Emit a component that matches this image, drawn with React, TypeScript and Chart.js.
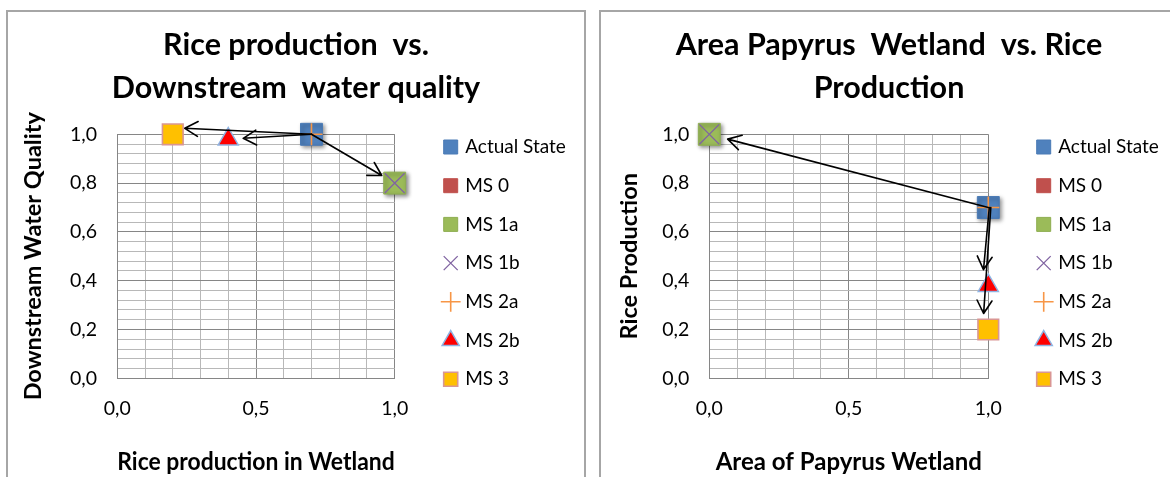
import React, { useEffect, useRef } from 'react';
import { Chart, registerables } from 'chart.js';

Chart.register(...registerables);

// ---------- data ----------
const SERIES_LABELS = ['Actual State', 'MS 0', 'MS 1a', 'MS 1b', 'MS 2a', 'MS 2b', 'MS 3'];

// Chart 1: x = rice production in wetland, y = downstream water quality
const RICE_IN_WETLAND = [0.7, null, 1.0, 1.0, 0.7, 0.4, 0.2];
const WATER_QUALITY = [1.0, null, 0.8, 0.8, 1.0, 0.98, 1.0];

// Chart 2: x = area of papyrus wetland, y = rice production
const PAPYRUS_AREA = [1.0, null, 0.0, 0.0, 1.0, 1.0, 1.0];
const RICE_PRODUCTION = [0.7, null, 1.0, 1.0, 0.7, 0.38, 0.2];

const X_TICK_VALUES = [0, 0.5, 1];
const X_TICK_LABELS = ['0,0', '0,5', '1,0'];
const Y_TICK_VALUES = [0, 0.2, 0.4, 0.6, 0.8, 1];
const Y_TICK_LABELS = ['0,0', '0,2', '0,4', '0,6', '0,8', '1,0'];

const ARROWS_1 = [
  ['Actual State', 'MS 3'],
  ['Actual State', 'MS 2b'],
  ['Actual State', 'MS 1a'],
];
const ARROWS_2 = [
  ['Actual State', 'MS 1a'],
  ['Actual State', 'MS 2b'],
  ['Actual State', 'MS 3'],
];

// ---------- styles ----------
const SERIES_STYLES = [
  { pointStyle: 'rect', fill: '#4f81bd', stroke: '#4a7ab5', width: 1, radius: 15.5, shadow: true },
  { pointStyle: 'rect', fill: '#c0504d', stroke: '#c0504d', width: 1, radius: 15, shadow: true },
  { pointStyle: 'rect', fill: '#9bbb59', stroke: '#8fae52', width: 1, radius: 15.5, shadow: true },
  { pointStyle: 'crossRot', fill: '#8064a2', stroke: '#8064a2', width: 1.3, radius: 14, shadow: false },
  { pointStyle: 'cross', fill: '#f79646', stroke: '#f79646', width: 1.6, radius: 11, shadow: false },
  { pointStyle: 'triangle', fill: '#ff0000', stroke: '#8eb4e3', width: 1.5, radius: 11.6, shadow: false },
  { pointStyle: 'rect', fill: '#ffc000', stroke: '#d99694', width: 1.6, radius: 14.6, shadow: false },
];

const FONT = 'Lato';
const MAJOR_GRID = '#868686';
const MINOR_GRID = '#b8b8b8';
const CANVAS_W = 556;
const CANVAS_H = 465;
const LEGEND_W = 148;
const LEGEND_PAD = 19.7;

const near = (a: number, b: number) => Math.abs(a - b) < 1e-6;
const labelFor = (values: number[], labels: string[], v: number) => {
  const i = values.findIndex((t) => near(t, v));
  return i >= 0 ? labels[i] : '';
};

const shadowPlugin = {
  id: 'markerShadow',
  beforeDatasetDraw(chart: any, args: any) {
    const ds = chart.data.datasets[args.index];
    chart.ctx.save();
    if (ds.shadow) {
      chart.ctx.shadowColor = 'rgba(0,0,0,0.45)';
      chart.ctx.shadowBlur = 4;
      chart.ctx.shadowOffsetX = 2;
      chart.ctx.shadowOffsetY = 2;
    }
  },
  afterDatasetDraw(chart: any) {
    chart.ctx.restore();
  },
};

function makeArrowPlugin(pairs: string[][], tweaks: any[]) {
  return {
    id: 'arrows',
    afterDatasetsDraw(chart: any) {
      const { ctx } = chart;
      const xs = chart.scales.x;
      const ys = chart.scales.y;
      const find = (label: string) => {
        const ds = chart.data.datasets.find((d: any) => d.label === label);
        return ds && ds.data.length ? ds.data[0] : null;
      };
      ctx.save();
      ctx.strokeStyle = '#000';
      ctx.lineWidth = 1.6;
      ctx.lineCap = 'round';
      ctx.lineJoin = 'round';
      pairs.forEach(([from, to], k) => {
        const a = find(from);
        const b = find(to);
        if (!a || !b) return;
        const t = tweaks[k] || {};
        const x1 = xs.getPixelForValue(a.x) + (t.sx || 0);
        const y1 = ys.getPixelForValue(a.y) + (t.sy || 0);
        let x2 = xs.getPixelForValue(b.x);
        let y2 = ys.getPixelForValue(b.y);
        const dx = x2 - x1;
        const dy = y2 - y1;
        const len = Math.hypot(dx, dy) || 1;
        x2 = x2 - (dx / len) * (t.gap || 0) + (t.ex || 0);
        y2 = y2 - (dy / len) * (t.gap || 0) + (t.ey || 0);
        const ang = Math.atan2(y2 - y1, x2 - x1);
        ctx.beginPath();
        ctx.moveTo(x1, y1);
        ctx.lineTo(x2, y2);
        for (const s of [-1, 1]) {
          const a2 = ang + Math.PI + s * 0.52;
          ctx.moveTo(x2, y2);
          ctx.lineTo(x2 + Math.cos(a2) * 15, y2 + Math.sin(a2) * 15);
        }
        ctx.stroke();
      });
      ctx.restore();
    },
  };
}

type PanelProps = {
  title: string[];
  xTitle: string;
  yTitle: string;
  xs: (number | null)[];
  ys: (number | null)[];
  arrows: string[][];
  arrowTweaks: any[];
  yAxisWidth: number;
  chartRight: number;
  yTitlePad: number;
  yTickPad: number;
};

function ScatterPanel(props: PanelProps) {
  const ref = useRef<HTMLCanvasElement>(null);
  useEffect(() => {
    const canvas = ref.current!;
    const datasets = SERIES_LABELS.map((label, i) => {
      const x = props.xs[i];
      const y = props.ys[i];
      const st = SERIES_STYLES[i];
      return {
        label,
        data: x == null || y == null ? [] : [{ x, y }],
        pointStyle: st.pointStyle,
        pointRadius: st.radius,
        pointHoverRadius: st.radius,
        backgroundColor: st.fill,
        borderColor: st.stroke,
        borderWidth: st.width,
        pointBackgroundColor: st.fill,
        pointBorderColor: st.stroke,
        pointBorderWidth: st.width,
        shadow: st.shadow,
        clip: false,
        order: SERIES_LABELS.length - i,
        xAxisID: 'x',
        yAxisID: 'y',
      };
    });
    const gapWidth = CANVAS_W - LEGEND_W - props.chartRight;
    const chart = new Chart(canvas, {
      type: 'scatter',
      data: { datasets } as any,
      options: {
        responsive: false,
        animation: false,
        events: [],
        layout: { padding: 0 },
        plugins: {
          tooltip: { enabled: false },
          title: {
            display: true,
            text: props.title,
            color: '#000',
            font: { family: FONT, size: 30.5, weight: 'bold', lineHeight: 43.2 / 30.5 },
            padding: { top: 11.4, bottom: 24.5 },
          },
          legend: {
            position: 'right',
            align: 'center',
            maxWidth: LEGEND_W,
            title: { display: true, text: '', font: { size: 10, lineHeight: 1.2 }, padding: 12.6 },
            labels: {
              usePointStyle: true,
              boxWidth: 10,
              boxHeight: 14,
              padding: LEGEND_PAD,
              color: '#000',
              font: { family: FONT, size: 19 },
              generateLabels: (ch: any) =>
                ch.data.datasets.map((ds: any, i: number) => ({
                  text: ds.label,
                  fillStyle: SERIES_STYLES[i].fill,
                  strokeStyle: SERIES_STYLES[i].stroke,
                  lineWidth: SERIES_STYLES[i].width,
                  pointStyle: SERIES_STYLES[i].pointStyle,
                  hidden: false,
                  datasetIndex: i,
                  fontColor: '#000',
                })),
            },
          },
        },
        scales: {
          x: {
            type: 'linear',
            position: 'bottom',
            min: 0,
            max: 1,
            afterFit: (s: any) => {
              s.height = CANVAS_H - 366.3;
            },
            ticks: {
              stepSize: 0.1,
              autoSkip: false,
              maxRotation: 0,
              padding: 18.5,
              color: '#000',
              font: { family: FONT, size: 19.5 },
              callback: (v: any) => labelFor(X_TICK_VALUES, X_TICK_LABELS, Number(v)),
            },
            grid: {
              drawTicks: false,
              lineWidth: 1,
              color: (c: any) =>
                c.tick && X_TICK_VALUES.some((t) => near(t, c.tick.value)) ? MAJOR_GRID : MINOR_GRID,
            },
            border: { display: true, color: MAJOR_GRID },
            title: {
              display: true,
              text: props.xTitle,
              color: '#000',
              font: { family: FONT, size: 24, weight: 'bold', lineHeight: 1.2 },
              padding: { top: 0, bottom: 0.6 },
            },
          },
          y: {
            type: 'linear',
            position: 'left',
            min: 0,
            max: 1,
            afterFit: (s: any) => {
              s.width = props.yAxisWidth;
            },
            ticks: {
              stepSize: 0.04,
              autoSkip: false,
              padding: props.yTickPad,
              color: '#000',
              font: { family: FONT, size: 19.5 },
              callback: (v: any) => labelFor(Y_TICK_VALUES, Y_TICK_LABELS, Number(v)),
            },
            grid: {
              drawTicks: false,
              lineWidth: 1,
              color: (c: any) =>
                c.tick && Y_TICK_VALUES.some((t) => near(t, c.tick.value)) ? MAJOR_GRID : MINOR_GRID,
            },
            border: { display: true, color: MAJOR_GRID },
            title: {
              display: true,
              text: props.yTitle,
              color: '#000',
              font: { family: FONT, size: 23.5, weight: 'bold', lineHeight: 1.2 },
              padding: { top: props.yTitlePad, bottom: 0 },
            },
          },
          gap: {
            type: 'linear',
            position: 'right',
            display: true,
            grid: { display: false, drawTicks: false },
            ticks: { display: false },
            border: { display: false },
            afterFit: (s: any) => {
              s.width = gapWidth;
            },
          },
        },
      } as any,
      plugins: [shadowPlugin, makeArrowPlugin(props.arrows, props.arrowTweaks)],
    });
    return () => chart.destroy();
  }, []);
  return (
    <canvas
      ref={ref}
      width={CANVAS_W}
      height={CANVAS_H}
      style={{ position: 'absolute', left: 10, top: 0, width: CANVAS_W, height: CANVAS_H }}
    />
  );
}

const boxStyle = (left: number, width: number): React.CSSProperties => ({
  position: 'absolute',
  left,
  top: 10,
  width,
  height: 480,
  border: '2px solid #a6a6a6',
  overflow: 'hidden',
  background: '#fff',
});

export default function App() {
  return (
    <div
      style={{
        position: 'fixed',
        left: 0,
        top: 0,
        width: 1170,
        height: 477,
        overflow: 'hidden',
        background: '#fff',
      }}
    >
      <div style={boxStyle(6, 576)}>
        <ScatterPanel
          title={['Rice production  vs.', 'Downstream  water quality']}
          xTitle="Rice production in Wetland"
          yTitle="Downstream Water Quality"
          xs={RICE_IN_WETLAND}
          ys={WATER_QUALITY}
          arrows={ARROWS_1}
          arrowTweaks={[{ gap: 12, ey: -6 }, { gap: 15 }, { gap: 15 }]}
          yAxisWidth={99.3}
          chartRight={376.7}
          yTitlePad={0.9}
          yTickPad={20.3}
        />
      </div>
      <div style={boxStyle(599, 600)}>
        <ScatterPanel
          title={['Area Papyrus  Wetland  vs. Rice', 'Production']}
          xTitle="Area of Papyrus Wetland"
          yTitle="Rice Production"
          xs={PAPYRUS_AREA}
          ys={RICE_PRODUCTION}
          arrows={ARROWS_2}
          arrowTweaks={[{ gap: 19 }, { gap: 16, sx: 1, ex: -5 }, { gap: 16, sx: 2.5, ex: -5 }]}
          yAxisWidth={98.3}
          chartRight={377.3}
          yTitlePad={4.2}
          yTickPad={20}
        />
      </div>
    </div>
  );
}
